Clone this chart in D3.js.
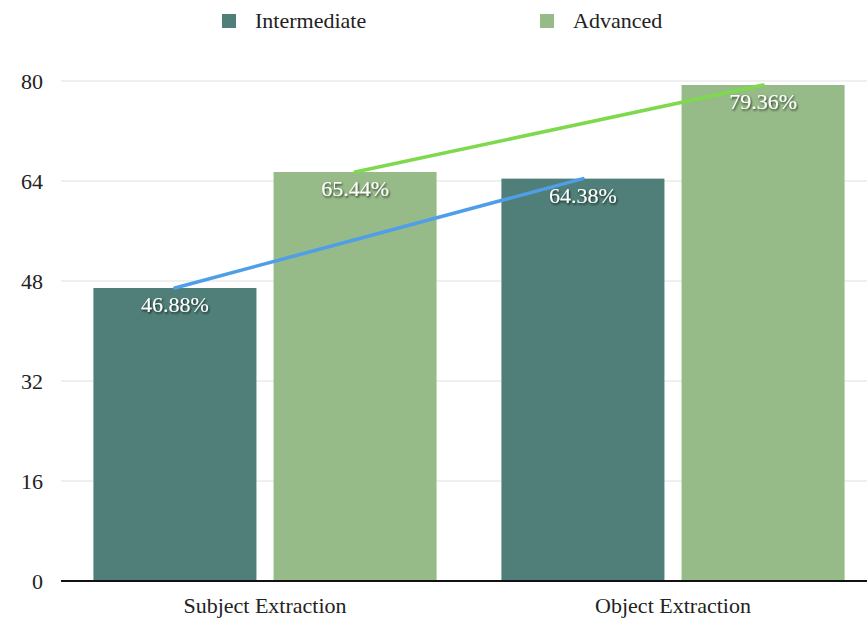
<!DOCTYPE html>
<html>
<head>
<meta charset="utf-8">
<script src="https://cdn.jsdelivr.net/npm/d3@7/dist/d3.min.js"></script>
<style>
  html, body { margin: 0; padding: 0; background: #fff; }
  svg { display: block; }
  svg text { font-family: "Liberation Serif", "Times New Roman", serif; }
</style>
</head>
<body>
<svg id="chart" width="867" height="621"></svg>
<script>
// Accuracy (%) by task, per difficulty level
const categories = ["Subject Extraction", "Object Extraction"];
const seriesNames = ["Intermediate", "Advanced"];
const intermediate = [46.88, 64.38];
const advanced = [65.44, 79.36];
const yTicks = [0, 16, 32, 48, 64, 80];

const colors = { Intermediate: "#4f7f78", Advanced: "#96bb88" };
const trendColors = { Intermediate: "#4f9ee8", Advanced: "#7ed94c" };

const svg = d3.select("#chart");
const W = 867;

const x0 = d3.scaleBand().domain(categories).range([61, 877]).paddingInner(0).paddingOuter(0);
const x1 = d3.scaleBand().domain(seriesNames).range([0, x0.bandwidth()]).paddingInner(0.095).paddingOuter(0.18);
const y = d3.scaleLinear().domain([0, 80]).range([581, 81]);

const valuesBy = { Intermediate: intermediate, Advanced: advanced };

// gridlines
svg.append("g")
  .selectAll("line")
  .data(yTicks.filter(t => t !== 0))
  .join("line")
  .attr("x1", 61).attr("x2", W)
  .attr("y1", d => y(d)).attr("y2", d => y(d))
  .attr("stroke", "#e0e0e0").attr("stroke-width", 1);

// y axis labels
const yAxis = d3.axisLeft(y).tickValues(yTicks).tickSize(0).tickPadding(0);
const gy = svg.append("g").attr("transform", "translate(43,0)").call(yAxis);
gy.attr("font-family", null);
gy.select(".domain").remove();
gy.selectAll("text").attr("font-size", 22).attr("fill", "#222");

// bars
const groups = svg.append("g").selectAll("g")
  .data(categories)
  .join("g")
  .attr("transform", d => `translate(${x0(d)},0)`);

groups.selectAll("rect")
  .data((c, i) => seriesNames.map(s => ({ s, v: valuesBy[s][i] })))
  .join("rect")
  .attr("x", d => x1(d.s))
  .attr("width", x1.bandwidth())
  .attr("y", d => y(d.v))
  .attr("height", d => y(0) - y(d.v))
  .attr("fill", d => colors[d.s]);

// x axis
const xAxis = d3.axisBottom(x0).tickSize(0).tickPadding(16);
const gx = svg.append("g").attr("transform", `translate(0,${y(0)})`).call(xAxis);
gx.attr("font-family", null);
gx.select(".domain").attr("stroke", "#111").attr("stroke-width", 2).attr("d", `M61,0H${W}`);
gx.selectAll("text").attr("font-size", 22).attr("fill", "#222");

// trend lines connecting bar tops per series
const line = d3.line().x(d => d[0]).y(d => d[1]);
seriesNames.forEach(s => {
  const pts = categories.map((c, i) => [x0(c) + x1(s) + x1.bandwidth() / 2, y(valuesBy[s][i])]);
  svg.append("path")
    .attr("d", line(pts))
    .attr("fill", "none")
    .attr("stroke", trendColors[s])
    .attr("stroke-width", 3.5)
    .attr("stroke-linecap", "round");
});

// value labels
const defs = svg.append("defs");
const f = defs.append("filter").attr("id", "shadow").attr("x", "-20%").attr("y", "-40%").attr("width", "140%").attr("height", "180%");
f.append("feDropShadow").attr("dx", 1).attr("dy", 1.5).attr("stdDeviation", 1.2).attr("flood-color", "#000").attr("flood-opacity", 0.75);

categories.forEach((c, i) => {
  seriesNames.forEach(s => {
    const v = valuesBy[s][i];
    svg.append("text")
      .attr("x", x0(c) + x1(s) + x1.bandwidth() / 2)
      .attr("y", y(v) + 24)
      .attr("text-anchor", "middle")
      .attr("font-size", 22)
      .attr("fill", "#fff")
      .attr("filter", "url(#shadow)")
      .text(v.toFixed(2) + "%");
  });
});

// legend
const legendPos = [222, 540];
const lg = svg.append("g").selectAll("g")
  .data(seriesNames)
  .join("g")
  .attr("transform", (d, i) => `translate(${legendPos[i]},14)`);
lg.append("rect").attr("width", 14).attr("height", 14).attr("fill", d => colors[d]);
lg.append("text").attr("x", 33).attr("y", 14).attr("font-size", 22).attr("fill", "#222").text(d => d);
</script>
</body>
</html>
